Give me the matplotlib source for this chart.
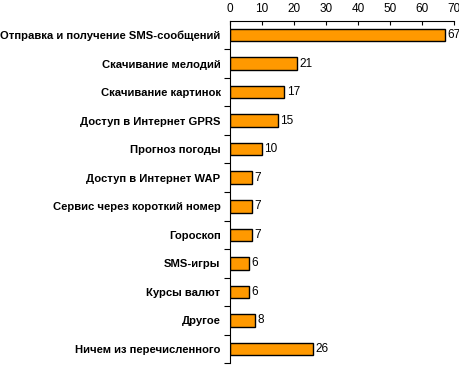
import matplotlib
matplotlib.use("Agg")
import matplotlib.pyplot as plt

plt.rcParams['font.family'] = ['Liberation Sans', 'DejaVu Sans']

categories = [
    "Отправка и получение SMS-сообщений",
    "Скачивание мелодий",
    "Скачивание картинок",
    "Доступ в Интернет GPRS",
    "Прогноз погоды",
    "Доступ в Интернет WAP",
    "Сервис через короткий номер",
    "Гороскоп",
    "SMS-игры",
    "Курсы валют",
    "Другое",
    "Ничем из перечисленного",
]
values = [67, 21, 17, 15, 10, 7, 7, 7, 6, 6, 8, 26]
xticks = [0, 10, 20, 30, 40, 50, 60, 70]

fig = plt.figure(figsize=(4.6, 3.65), dpi=100)
ax = fig.add_axes([0.499, 0.005, 0.489, 0.938])

pos = list(range(len(categories)))
ax.barh(pos, values, height=0.44, color="#FF9900", edgecolor="black", linewidth=1)
for p, v in zip(pos, values):
    ax.text(v + 0.8, p, str(v), va="center", ha="left", fontsize=8.5)

ax.set_xlim(0, 70)
ax.set_ylim(len(categories) - 0.5, -0.5)
ax.set_xticks(xticks)
ax.xaxis.tick_top()
ax.tick_params(axis="x", direction="in", length=3, labelsize=8.5, pad=4)

# major ticks between categories, labels on minor ticks at bar centres
ax.set_yticks([p + 0.5 for p in pos], minor=False)
ax.set_yticklabels([])
ax.set_yticks(pos, minor=True)
ax.set_yticklabels(categories, minor=True, fontweight="bold", fontsize=8.1)
ax.tick_params(axis="y", which="major", direction="out", length=4)
ax.tick_params(axis="y", which="minor", length=0, pad=6.5)

ax.spines["right"].set_visible(False)
ax.spines["bottom"].set_visible(False)

fig.savefig("out.png", dpi=100)
